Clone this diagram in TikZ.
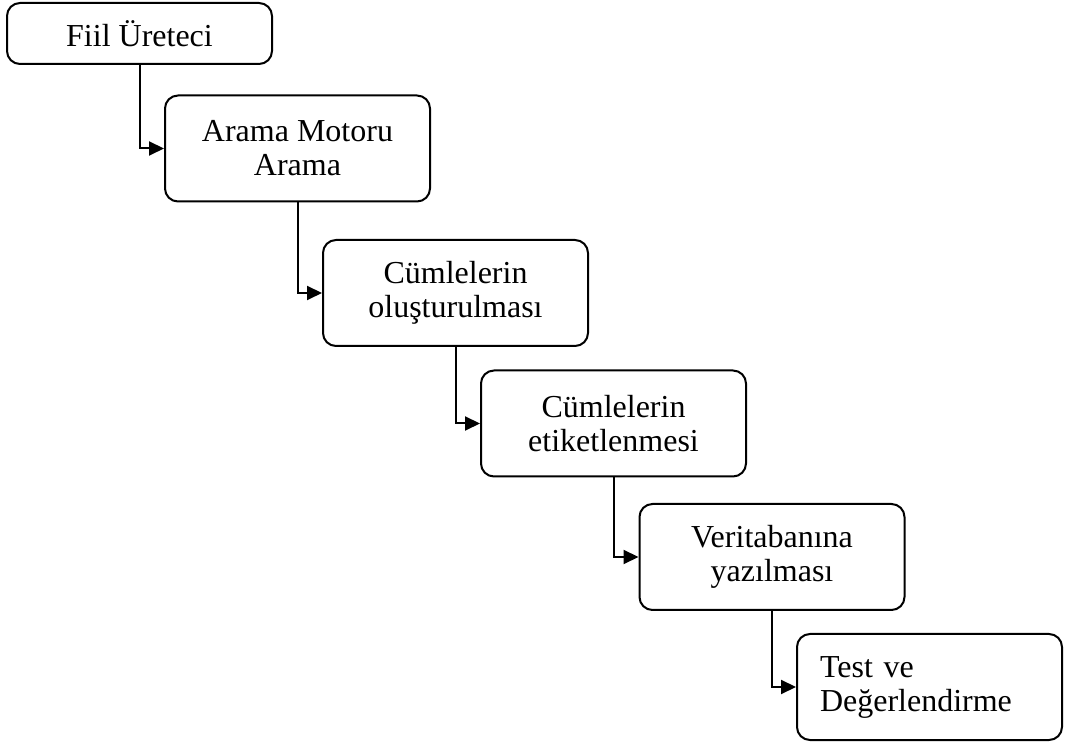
\documentclass[tikz,border=0pt]{standalone}
\usepackage{fontspec}
\setmainfont{Liberation Serif}
\usepackage{tikz}
\usetikzlibrary{arrows.meta}

\begin{document}
\begin{tikzpicture}[x=0.5pt,y=-0.5pt,
            adim/.style={draw, line width=1pt, rounded corners=6.5pt, minimum width=132.5pt, minimum height=53pt, align=center, font=\fontsize{16}{17}\selectfont},
            ok/.style={line width=1pt, -{Triangle[length=7.5pt,width=7pt]}}]
            \useasboundingbox (0,0) rectangle (1071,742);
            \node[adim, minimum height=30.5pt] (fiil) at (139.5,33.5) {Fiil Üreteci};
            \node[adim] (arama) at (297.5,148.5) {Arama Motoru\\Arama};
            \node[adim] (olustur) at (455.5,293) {Cümlelerin\\oluşturulması};
            \node[adim] (etiket) at (613.5,423.5) {Cümlelerin\\etiketlenmesi};
            \node[adim] (veritabani) at (772,557) {Veritabanına\\yazılması};
            \node[adim, align=left, text width=109.5pt, inner xsep=11.5pt] (test) at (929.5,687) {Test ve\\Değerlendirme};
            \draw[ok] (fiil.south) |- (arama.west);
            \draw[ok] (arama.south) |- (olustur.west);
            \draw[ok] (olustur.south) |- (etiket.west);
            \draw[ok] (etiket.south) |- (veritabani.west);
            \draw[ok] (veritabani.south) |- (test.west);
        \end{tikzpicture}
\end{document}
